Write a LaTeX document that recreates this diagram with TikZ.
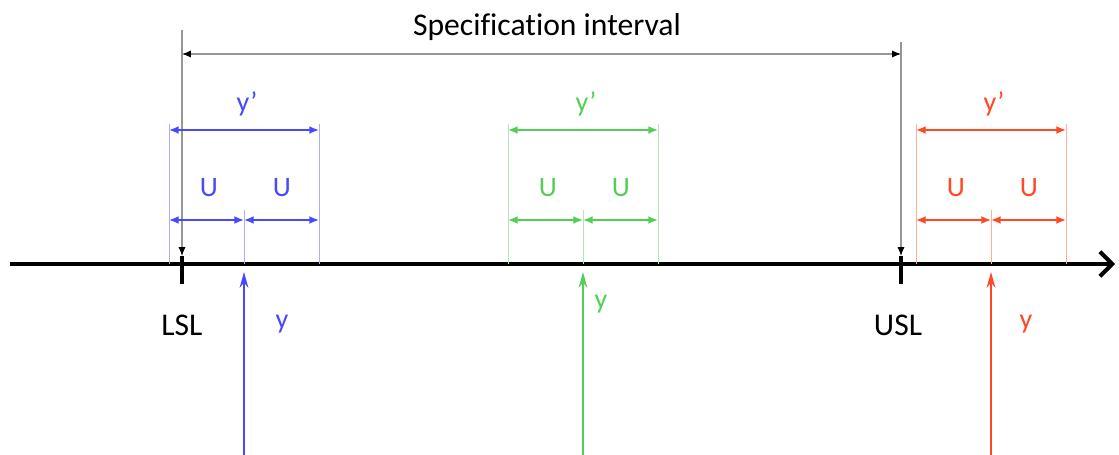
\documentclass[tikz,border=0pt]{standalone}
\usepackage{fontspec}
\setmainfont[Ligatures=NoCommon]{Carlito}
\usetikzlibrary{arrows.meta}
\definecolor{meas1}{RGB}{72,72,255}
\definecolor{meas2}{RGB}{84,206,84}
\definecolor{meas3}{RGB}{255,72,36}
\definecolor{specgray}{RGB}{150,150,150}

\begin{document}
\begin{tikzpicture}[x=0.02cm, y=-0.02cm,
  big/.style={font=\fontsize{18}{20}\selectfont, inner sep=0pt},
  lbl/.style={font=\fontsize{16}{18}\selectfont, inner sep=0pt, text=#1},
  dim/.style={{Latex[length=5.5pt,width=4.5pt]}-{Latex[length=5.5pt,width=4.5pt]}, draw=#1, line width=0.9pt},
  ext/.style={draw=#1!45, line width=0.5pt},
  meas/.style={-{Stealth[length=9pt,width=5pt]}, draw=#1, line width=1.1pt},
  spec/.style={draw=specgray, line width=0.6pt},
  tip/.style={-{Latex[length=5pt,width=4pt,color=black]}, draw=specgray, line width=0.6pt},
]
\useasboundingbox (0,0) rectangle (1119,455);

% axis and limits
\coordinate (ax0) at (10,264);
\coordinate (ax1) at (1115,264);
\draw[line width=2.3pt, -{Straight Barb[length=7pt,width=14pt,line width=2.3pt]}] (ax0) -- (ax1);

\coordinate (lsl-t) at (182,256);
\coordinate (lsl-b) at (182,284);
\coordinate (usl-t) at (901,256);
\coordinate (usl-b) at (901,284);
\draw[line width=2.3pt] (lsl-t) -- (lsl-b);
\draw[line width=2.3pt] (usl-t) -- (usl-b);
\node[big] (lsl) at (182,325) {LSL};
\node[big] (usl) at (898,325) {USL};

% specification interval
\coordinate (si-l0) at (182,30);
\coordinate (si-r0) at (901,42);
\coordinate (si-l) at (182,54);
\coordinate (si-r) at (901,54);
\draw[tip] (si-l0) -- (lsl-t);
\draw[tip] (si-r0) -- (usl-t);
\draw[spec, {Latex[length=5pt,width=4pt,color=black]}-{Latex[length=5pt,width=4pt,color=black]}] (si-l) -- (si-r);
\node[big] (title) at (547,27) {Specification interval};

% three measurement results
\foreach \c/\m/\tx/\ty in {meas1/244/282/324, meas2/583/601/304, meas3/991/1026/324} {
  \coordinate (\c-l0) at (\m-75,124);
  \coordinate (\c-r0) at (\m+75,124);
  \coordinate (\c-m0) at (\m,210);
  \coordinate (\c-l) at (\m-75,264);
  \coordinate (\c-r) at (\m+75,264);
  \coordinate (\c-m) at (\m,264);
  \coordinate (\c-yl) at (\m-75,130);
  \coordinate (\c-yr) at (\m+75,130);
  \coordinate (\c-ul) at (\m-75,220);
  \coordinate (\c-um) at (\m,220);
  \coordinate (\c-ur) at (\m+75,220);
  \coordinate (\c-in) at (\m,455);
  \coordinate (\c-out) at (\m,272);
  \draw[ext=\c] (\c-l0) -- (\c-l);
  \draw[ext=\c] (\c-r0) -- (\c-r);
  \draw[ext=\c] (\c-m0) -- (\c-m);
  \draw[dim=\c] (\c-yl) -- (\c-yr);
  \draw[dim=\c] (\c-ul) -- (\c-um);
  \draw[dim=\c] (\c-um) -- (\c-ur);
  \draw[meas=\c] (\c-in) -- (\c-out);
  \node[lbl=\c] (\c-yp) at (\m+3,104) {y’};
  \node[lbl=\c] (\c-u1) at (\m-35,188) {U};
  \node[lbl=\c] (\c-u2) at (\m+38,188) {U};
  \node[lbl=\c] (\c-y) at (\tx,\ty) {y};
}

\end{tikzpicture}
\end{document}
